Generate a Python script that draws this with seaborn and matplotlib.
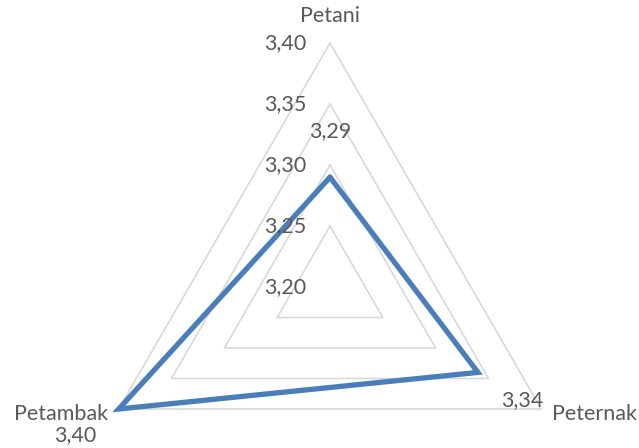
import numpy as np
import pandas as pd
import matplotlib
matplotlib.use("Agg")
import matplotlib.pyplot as plt
import seaborn as sns

# Radar data
categories = ["Petani", "Peternak", "Petambak"]
values = [3.29, 3.34, 3.40]
value_labels = ["3,29", "3,34", "3,40"]
grid_levels = [3.20, 3.25, 3.30, 3.35, 3.40]
tick_labels = ["3,20", "3,25", "3,30", "3,35", "3,40"]
r_min, r_max = 3.20, 3.40

sns.set_theme(style="white")
plt.rcParams["font.family"] = ["Lato", "DejaVu Sans"]

text_color = "#595959"
grid_color = "#d9d9d9"
line_color = "#4a7ebb"
fs = 15.5

fig = plt.figure(figsize=(6.39, 4.48), dpi=100)
# square polar area centred on the radar centre
cx, cy, rad = 330, 287, 244
W, H = 639, 448
ax = fig.add_axes([(cx - rad) / W, (H - cy - rad) / H, 2 * rad / W, 2 * rad / H],
                  projection="polar")
ax.set_theta_offset(np.pi / 2)
ax.set_theta_direction(-1)
ax.set_ylim(r_min, r_max)
ax.grid(False)
ax.set_xticks([])
ax.set_yticks([])
ax.spines["polar"].set_visible(False)
ax.set_facecolor("none")

n = len(categories)
angles = np.arange(n) * 2 * np.pi / n

# triangular gridlines
for lvl in grid_levels[1:]:
    th = np.append(angles, angles[0])
    rr = np.full(len(th), lvl)
    ax.plot(th, rr, color=grid_color, lw=1.2, clip_on=False, zorder=1)

# data polygon (closed back to the first category)
df = pd.DataFrame({"theta": np.append(angles, angles[0]),
                   "value": values + [values[0]]})
sns.lineplot(data=df, x="theta", y="value", sort=False, estimator=None, ax=ax,
             color=line_color, lw=3.8, clip_on=False, zorder=3)
ax.lines[-1].set_solid_joinstyle("miter")
ax.set_xlabel("")
ax.set_ylabel("")

# radial tick labels, along the top axis
for lvl, lab in zip(grid_levels, tick_labels):
    ax.annotate(lab, xy=(0, lvl), xytext=(-24, 0), textcoords="offset pixels",
                ha="right", va="center", fontsize=fs, color=text_color,
                annotation_clip=False)

# category labels
cat_offsets = [(0, 27), (11, -5), (-11, -5)]
cat_ha = ["center", "left", "right"]
for a, lab, off, ha in zip(angles, categories, cat_offsets, cat_ha):
    ax.annotate(lab, xy=(a, r_max), xytext=off, textcoords="offset pixels",
                ha=ha, va="center", fontsize=fs, color=text_color,
                annotation_clip=False)

# value labels
val_offsets = [(0, 46), (44, -28), (-43, -26)]
for a, v, lab, off in zip(angles, values, value_labels, val_offsets):
    ax.annotate(lab, xy=(a, v), xytext=off, textcoords="offset pixels",
                ha="center", va="center", fontsize=fs, color=text_color,
                annotation_clip=False, zorder=4)

fig.savefig("out.png", dpi=100)
